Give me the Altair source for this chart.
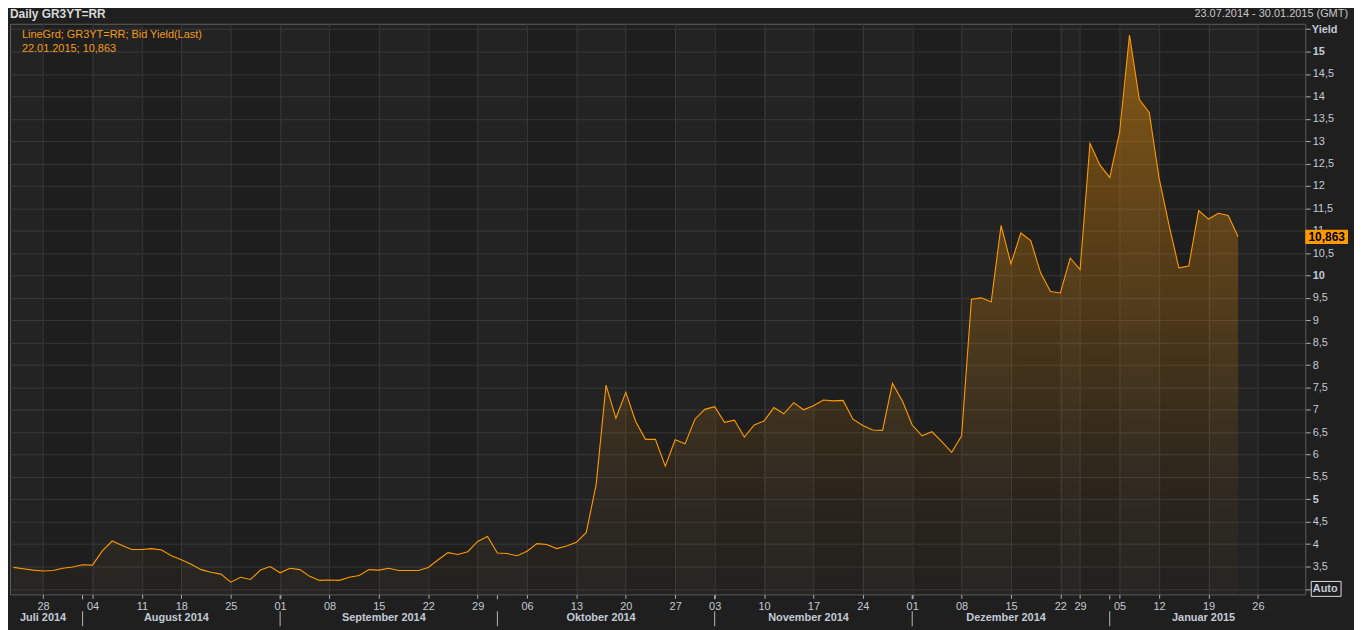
import altair as alt
import pandas as pd
import numpy as np

# ---------------- data ----------------
# Greek trading calendar 23.07.2014 - 30.01.2015 (weekdays minus exchange holidays)
START, END = "2014-07-23", "2015-01-30"
HOLIDAYS = ["2014-08-15", "2014-10-28", "2014-12-24", "2014-12-25",
            "2014-12-26", "2015-01-01", "2015-01-06"]

# Daily 3Y Greek government bond bid yield (last), one per trading day from 23.07.2014
YIELDS = [
    3.48, 3.45, 3.42, 3.40, 3.41, 3.46, 3.49, 3.54, 3.53, 3.85,
    4.07, 3.97, 3.88, 3.88, 3.90, 3.87, 3.74, 3.65, 3.55, 3.43,
    3.37, 3.33, 3.15, 3.26, 3.21, 3.42, 3.50, 3.36, 3.46, 3.43,
    3.28, 3.19, 3.20, 3.19, 3.26, 3.30, 3.43, 3.42, 3.46, 3.41,
    3.41, 3.41, 3.48, 3.65, 3.81, 3.77, 3.83, 4.06, 4.17, 3.80,
    3.79, 3.74, 3.84, 4.01, 3.99, 3.90, 3.96, 4.04, 4.26, 5.33,
    7.55, 6.81, 7.39, 6.74, 6.34, 6.34, 5.74, 6.33, 6.24, 6.79,
    7.01, 7.07, 6.72, 6.77, 6.39, 6.66, 6.75, 7.05, 6.91, 7.16,
    7.00, 7.09, 7.22, 7.20, 7.21, 6.79, 6.65, 6.55, 6.54, 7.59,
    7.20, 6.66, 6.42, 6.51, 6.29, 6.05, 6.42, 9.47, 9.50, 9.41,
    11.12, 10.26, 10.95, 10.78, 10.06, 9.64, 9.61, 10.39, 10.13, 12.95,
    12.47, 12.19, 13.20, 15.37, 13.93, 13.64, 12.17, 11.13, 10.17, 10.21,
    11.45, 11.26, 11.39, 11.34, 10.863,
]

MONTHS_DE = ["Januar", "Februar", "März", "April", "Mai", "Juni", "Juli",
             "August", "September", "Oktober", "November", "Dezember"]

Y_TICKS = [float(v) for v in np.arange(3.0, 15.51, 0.5)]

# ---------------- derived tables ----------------
days = pd.bdate_range(START, END)
days = days[~days.isin(pd.to_datetime(HOLIDAYS))]
n_days = len(days)

df = pd.DataFrame({"i": np.arange(len(YIELDS)), "v": YIELDS})

mondays = [int(k) for k, d in enumerate(days) if d.weekday() == 0]
day_labels = [d.strftime("%d") for d in days]
label_expr_x = "[" + ",".join("'%s'" % s for s in day_labels) + "][datum.value]"

month_key = [(d.year, d.month) for d in days]
month_starts = [k for k in range(1, n_days) if month_key[k] != month_key[k - 1]]
months = []
for key in sorted(set(month_key)):
    idx = [k for k, m in enumerate(month_key) if m == key]
    months.append({"mid": float(np.mean(idx)),
                   "label": "%s %d" % (MONTHS_DE[key[1] - 1], key[0])})
months_df = pd.DataFrame(months)
seps_df = pd.DataFrame({"i": month_starts})

XDOM = [-0.35, n_days - 1 + 0.8]
YDOM = [2.878, 15.622]

edges = [XDOM[0]] + mondays + [XDOM[1]]
bands_df = pd.DataFrame({"x0": edges[:-1], "x1": edges[1:],
                         "shade": [k % 2 for k in range(len(edges) - 1)]})

last_i = len(YIELDS) - 1
last_v = YIELDS[-1]
last_txt = ("%.3f" % last_v).replace(".", ",")
tag_df = pd.DataFrame({"v": [last_v], "label": [last_txt]})
legend_txt = "LineGrd; GR3YT=RR; Bid Yield(Last)\n%s; %s" % (days[last_i].strftime("%d.%m.%Y"), last_txt)
auto_df = pd.DataFrame({"v": [Y_TICKS[0]]})

# ---------------- styling ----------------
W, H = 1303, 574
FONT = "Liberation Sans"
AXC = "#c3cad6"
ORANGE = "#ff9900"
GRID = "#363636"

xscale = alt.Scale(domain=XDOM, nice=False, zero=False)
yscale = alt.Scale(domain=YDOM, nice=False, zero=False)

x_axis = alt.Axis(values=mondays, labelExpr=label_expr_x, grid=True, gridColor=GRID,
                  tickColor="#aaaaaa", tickSize=4, domain=False, labelColor=AXC,
                  labelFont=FONT, labelFontSize=11, labelPadding=2, labelAngle=0,
                  title=None, labelFlush=False, labelOverlap=False)

y_axis = alt.Axis(orient="right", values=Y_TICKS, grid=True, gridColor=GRID,
                  tickColor="#aaaaaa", tickSize=5, domain=False, labelColor=AXC,
                  labelFont=FONT, labelFontSize=11, labelPadding=2,
                  labelExpr="datum.value == 3 ? 'Auto' : (datum.value > 15.2 ? '' : replace(format(datum.value, '.1~f'), '.', ','))",
                  labelFontWeight={"condition": {"test": "datum.value % 5 == 0 || datum.value == 3", "value": "bold"}, "value": "normal"},
                  title="Yield", titleAngle=0, titleAlign="left", titleBaseline="middle",
                  titleX=6, titleY=6, titleColor=AXC, titleFont=FONT, titleFontSize=11,
                  titleFontWeight="bold", labelFlush=False, labelOverlap=False)

X = lambda f: alt.X(f, type="quantitative", scale=xscale, axis=x_axis)
Y = lambda f: alt.Y(f, type="quantitative", scale=yscale, axis=y_axis, stack=None)

gradient = alt.Gradient(
    gradient="linear", x1=1, x2=1, y1=0, y2=1,
    stops=[alt.GradientStop(color="rgba(255,153,0,0.45)", offset=0.0),
           alt.GradientStop(color="rgba(255,153,0,0.30)", offset=0.27),
           alt.GradientStop(color="rgba(255,153,0,0.20)", offset=0.51),
           alt.GradientStop(color="rgba(255,153,0,0.12)", offset=0.67),
           alt.GradientStop(color="rgba(255,153,0,0.05)", offset=0.83),
           alt.GradientStop(color="rgba(255,153,0,0.02)", offset=1.0)])

bands = alt.Chart(bands_df).transform_filter("datum.shade == 0").mark_rect(
    color="#ffffff", opacity=0.022).encode(x=X("x0"), x2="x1", y=alt.value(0), y2=alt.value(H))

area = alt.Chart(df).mark_area(color=gradient, interpolate="linear").encode(x=X("i"), y=Y("v"))
line = alt.Chart(df).mark_line(color=ORANGE, strokeWidth=1.1, interpolate="linear").encode(x=X("i"), y=Y("v"))

legend = alt.Chart(pd.DataFrame({"t": [legend_txt]})).mark_text(
    align="left", baseline="middle", font=FONT, fontSize=11, color="#f29a1a",
    lineBreak="\n", lineHeight=14).encode(x=alt.value(12), y=alt.value(11), text="t:N")

title_l = alt.Chart(pd.DataFrame({"t": ["Daily GR3YT=RR"]})).mark_text(
    align="left", baseline="middle", font=FONT, fontSize=12, fontWeight="bold",
    color="#d8d8d8").encode(x=alt.value(0), y=alt.value(-10), text="t:N")
title_r = alt.Chart(pd.DataFrame({"t": ["%s - %s (GMT)" % (days[0].strftime("%d.%m.%Y"), days[-1].strftime("%d.%m.%Y"))]})).mark_text(
    align="right", baseline="middle", font=FONT, fontSize=11,
    color="#c8c8c8").encode(x=alt.value(W + 43), y=alt.value(-10), text="t:N")

month_txt = alt.Chart(months_df).mark_text(
    baseline="middle", font=FONT, fontSize=11, fontWeight="bold", color=AXC).encode(
    x=X("mid"), y=alt.value(H + 24), text="label:N")
sep_low = alt.Chart(seps_df).mark_rule(color="#b8b8b8", strokeWidth=1).encode(
    x=X("i"), y=alt.value(H + 17), y2=alt.value(H + 32))
sep_top = alt.Chart(seps_df).mark_rule(color="#b8b8b8", strokeWidth=1).encode(
    x=X("i"), y=alt.value(H + 1), y2=alt.value(H + 5))

tag_box = alt.Chart(tag_df).mark_point(
    shape="M-1,-0.33L1,-0.33L1,0.33L-1,0.33Z", size=43 * 43, filled=True,
    fill="#ff9900", opacity=1, strokeWidth=0).encode(x=alt.value(W + 21.5), y=Y("v"))
tag_txt = alt.Chart(tag_df).mark_text(
    baseline="middle", font=FONT, fontSize=12, fontWeight="bold", color="#000000").encode(
    x=alt.value(W + 21.5), y=Y("v"), text="label:N")

auto_box = alt.Chart(auto_df).mark_point(
    shape="M-1,-0.5L1,-0.5L1,0.5L-1,0.5Z", size=30 * 30, filled=False,
    stroke="#dddddd", strokeWidth=1, opacity=1).encode(x=alt.value(W + 21), y=Y("v"))

chart = alt.layer(
    bands, area, line, legend, title_l, title_r, month_txt, sep_low, sep_top,
    tag_box, tag_txt, auto_box
).properties(
    width=W, height=H,
    autosize=alt.AutoSizeParams(type="none"),
    padding={"left": 2, "top": 14, "right": 49, "bottom": 34},
    background="#1f1f1f",
).configure_view(fill="#1e1e1e", stroke="#5c5c5c", strokeWidth=1)

chart.save("out.html", embed_options={"renderer": "svg", "actions": False})
